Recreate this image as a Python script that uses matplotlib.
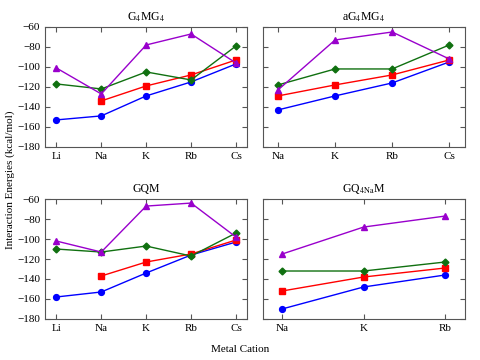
import numpy as np
import matplotlib.pyplot as plt

plt.rcParams['font.family'] = ['Liberation Serif', 'DejaVu Serif']
plt.rcParams['mathtext.fontset'] = 'stix'
plt.rcParams['font.size'] = 8

# panel data (kcal/mol); None = no point
titles = ["G$_4$MG$_4$", "aG$_4$MG$_4$", "GQM", "GQ$_{4\\mathrm{Na}}$M"]
cats_a = ["Li", "Na", "K", "Rb", "Cs"]
cats_b = ["Na", "K", "Rb", "Cs"]
cats_c = ["Li", "Na", "K", "Rb", "Cs"]
cats_d = ["Na", "K", "Rb"]

blue_a = [-153, -149, -129, -115, -97]
red_a = [None, -134, -119, -108, -93]
green_a = [-117, -122, -105, -113, -79]
purple_a = [-101, -127, -78, -67, -96]

blue_b = [-143, -129, -116, -95]
red_b = [-129, -118, -108, -93]
green_b = [-118, -102, -102, -78]
purple_b = [-123, -73, -65, -92]

blue_c = [-158, -153, -134, -116, -103]
red_c = [None, -137, -123, -115, -101]
green_c = [-110, -113, -107, -117, -94]
purple_c = [-102, -113, -67, -64, -98]

blue_d = [-170, -148, -136]
red_d = [-152, -138, -129]
green_d = [-132, -132, -123]
purple_d = [-115, -88, -77]

panels = [
    (cats_a, [blue_a, red_a, green_a, purple_a]),
    (cats_b, [blue_b, red_b, green_b, purple_b]),
    (cats_c, [blue_c, red_c, green_c, purple_c]),
    (cats_d, [blue_d, red_d, green_d, purple_d]),
]

colors = ['#0000ff', '#ff0000', '#107010', '#9900cc']
markers = ['o', 's', 'D', '^']
msizes = [4.2, 4.8, 3.5, 4.5]

fig = plt.figure(figsize=(4.8, 3.6), dpi=100)
positions = [
    [0.094, 0.592, 0.421, 0.333],
    [0.547, 0.592, 0.421, 0.333],
    [0.094, 0.114, 0.421, 0.333],
    [0.547, 0.114, 0.421, 0.333],
]

for i in range(4):
    ax = fig.add_axes(positions[i])
    cats, series = panels[i]
    x = np.arange(len(cats))
    for j in range(4):
        vals = np.array([np.nan if v is None else v for v in series[j]], dtype=float)
        ax.plot(x, vals, color=colors[j], marker=markers[j], markersize=msizes[j], linewidth=1)
    n = len(cats) - 1
    # keep roughly the same small gap at each side
    pad = 0.25 if n == 4 else (0.27 if n == 3 else 0.24)
    ax.set_xlim(-pad, n + pad)
    ax.set_xticks(x)
    ax.set_xticklabels(cats)
    ax.set_ylim(-180, -60)
    ax.set_yticks(np.arange(-180, -59, 20))
    ax.tick_params(direction='in', top=True, right=True, length=3.5, color='#555555')
    if i % 2 == 1:
        ax.set_yticklabels([])
    for s in ax.spines.values():
        s.set_color('#555555')
    ax.set_title(titles[i], fontsize=8.5, pad=5)

fig.text(0.022, 0.5, "Interaction Energies (kcal/mol)", rotation=90, ha='center', va='center')
fig.text(0.5, 0.03, "Metal Cation", ha='center', va='center')

plt.savefig("out.png", dpi=100)
